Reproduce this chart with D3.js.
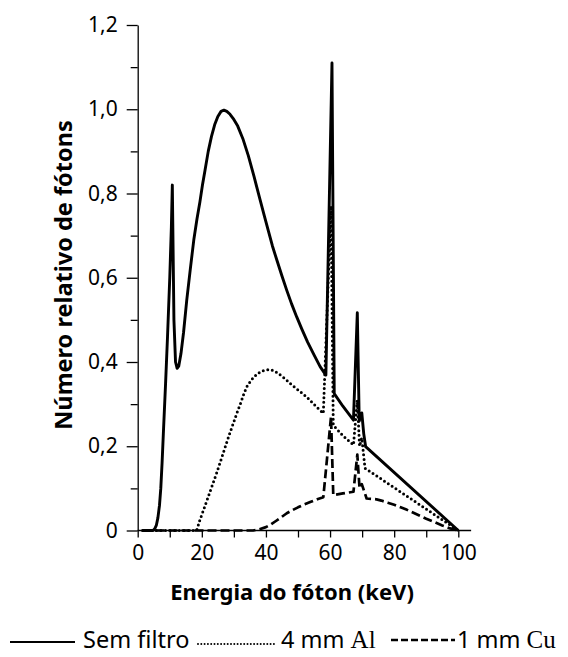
<!DOCTYPE html>
<html>
<head>
<meta charset="utf-8">
<script src="https://cdn.jsdelivr.net/npm/d3@7"></script>
<style>
  html, body { margin: 0; padding: 0; background: #fff; }
  svg { display: block; }
</style>
</head>
<body>
<svg id="chart" width="568" height="657"></svg>
<script>
// ---- Data ----
const semFiltroE = [1.5, 4.8, 5.3, 5.8, 6.3, 6.8, 7.2, 7.6, 8.0, 8.7, 9.3, 10, 10.5, 10.8, 11.3, 11.8, 12.3, 12.8, 13.5, 14.3, 15.3, 16.4, 17.5, 18.5, 19.4, 20.2, 21, 22, 23, 24, 25, 26, 26.9, 27.8, 28.8, 29.8, 31.2, 32.9, 34.5, 36.3, 38.1, 39.5, 40.8, 42, 43.4, 45, 46.5, 48, 49.6, 51.2, 53, 55, 56.9, 58.7, 60.6, 61.3, 64, 67.3, 68.5, 69.1, 69.9, 70.5, 71.1, 100];
const semFiltroN = [0, 0, 0.004, 0.012, 0.03, 0.06, 0.1, 0.16, 0.23, 0.35, 0.46, 0.6, 0.72, 0.82, 0.5, 0.4, 0.385, 0.39, 0.42, 0.47, 0.547, 0.62, 0.69, 0.74, 0.78, 0.82, 0.855, 0.9, 0.935, 0.963, 0.983, 0.995, 0.998, 0.995, 0.988, 0.978, 0.96, 0.928, 0.89, 0.84, 0.787, 0.747, 0.71, 0.676, 0.642, 0.604, 0.57, 0.538, 0.507, 0.478, 0.447, 0.417, 0.389, 0.369, 1.11, 0.325, 0.295, 0.262, 0.517, 0.26, 0.279, 0.23, 0.199, 0];

const alE = [1.5, 18.4, 19.4, 20.5, 22, 23.3, 24.6, 26, 27.2, 28.5, 29.8, 31, 32, 33, 34, 35.5, 37, 38.5, 40, 41.3, 42.6, 44, 46, 48, 50.3, 52.7, 55.3, 57.9, 60.3, 61, 64, 67.3, 68.5, 69.2, 69.9, 70.9, 100];
const alN = [0, 0, 0.025, 0.048, 0.08, 0.108, 0.136, 0.168, 0.196, 0.226, 0.254, 0.28, 0.3, 0.322, 0.341, 0.358, 0.37, 0.378, 0.381, 0.382, 0.379, 0.372, 0.36, 0.346, 0.332, 0.317, 0.297, 0.278, 0.77, 0.25, 0.225, 0.203, 0.31, 0.2, 0.22, 0.148, 0];

const cuE = [1.5, 36, 38, 40, 41.5, 43, 44.7, 46.5, 48.2, 50, 52, 54, 56, 57.9, 60.3, 61, 64, 67.3, 68.5, 69.2, 69.9, 71.4, 73, 74.5, 76, 78, 80, 82, 84, 86, 88, 90, 92.5, 95, 97.5, 100];
const cuN = [0, 0, 0.003, 0.008, 0.014, 0.022, 0.031, 0.041, 0.048, 0.055, 0.062, 0.068, 0.074, 0.079, 0.27, 0.084, 0.088, 0.092, 0.18, 0.1, 0.11, 0.076, 0.075, 0.074, 0.071, 0.066, 0.061, 0.055, 0.049, 0.042, 0.035, 0.028, 0.02, 0.012, 0.005, 0];

const yMajorTicks = [0, 0.2, 0.4, 0.6, 0.8, 1.0, 1.2];
const yMinorTicks = [0.1, 0.3, 0.5, 0.7, 0.9, 1.1];
const xTicks = [0, 10, 20, 30, 40, 50, 60, 70, 80, 90, 100];
const xLabelTicks = [0, 20, 40, 60, 80, 100];

const xTitle = "Energia do fóton (keV)";
const yTitle = "Número relativo de fótons";

// ---- Drawing ----
const svg = d3.select("#chart");
const x = d3.scaleLinear().domain([0, 100]).range([137.7, 458.3]);
const y = d3.scaleLinear().domain([0, 1.2]).range([530.5, 25]);

const sans = "'Noto Sans', 'Open Sans', sans-serif";
const serif = "'Liberation Serif', 'DejaVu Serif', serif";

// Y axis
const yAxis = svg.append("g").attr("transform", `translate(${x(0)},0)`)
  .call(d3.axisLeft(y).tickValues(yMajorTicks).tickSize(11).tickSizeOuter(0).tickPadding(9)
    .tickFormat(d => d === 0 ? "0" : d3.format(".1f")(d).replace(".", ",")));
yAxis.selectAll("text").attr("font-family", sans).attr("font-size", 21).attr("fill", "#000");
yAxis.selectAll("line, path").attr("stroke", "#000").attr("stroke-width", 1.3);

const yMinor = svg.append("g").attr("transform", `translate(${x(0)},0)`)
  .call(d3.axisLeft(y).tickValues(yMinorTicks).tickSize(7).tickSizeOuter(0).tickFormat(""));
yMinor.select(".domain").remove();
yMinor.selectAll("line").attr("stroke", "#000").attr("stroke-width", 1.3);

// X axis
const xAxis = svg.append("g").attr("transform", `translate(0,${y(0)})`)
  .call(d3.axisBottom(x).tickValues(xTicks).tickSize(7).tickSizeOuter(0).tickPadding(8)
    .tickFormat(d => xLabelTicks.includes(d) ? String(d) : ""));
xAxis.select(".domain").remove();
xAxis.append("line").attr("x1", x(0)).attr("x2", x(104)).attr("y1", 0).attr("y2", 0)
  .attr("stroke", "#000").attr("stroke-width", 1.3);
xAxis.selectAll("text").attr("font-family", sans).attr("font-size", 21).attr("fill", "#000");
xAxis.selectAll(".tick line").attr("stroke", "#000").attr("stroke-width", 1.3);

// Titles
svg.append("text").attr("x", 292).attr("y", 600).attr("text-anchor", "middle")
  .attr("font-family", sans).attr("font-weight", "bold").attr("font-size", 22).text(xTitle);
svg.append("text").attr("transform", "translate(71.5,275) rotate(-90)").attr("text-anchor", "middle")
  .attr("font-family", sans).attr("font-weight", "bold").attr("font-size", 23.5).text(yTitle);

// Lines
const line = d3.line().x(d => x(d[0])).y(d => y(d[1])).curve(d3.curveLinear);
const series = [
  { e: cuE, n: cuN, dash: "9,4", width: 2.7, cap: "butt" },
  { e: alE, n: alN, dash: "0,4.6", width: 3, cap: "round" },
  { e: semFiltroE, n: semFiltroN, dash: null, width: 2.9, cap: "butt" }
];
series.forEach(s => {
  svg.append("path").datum(s.e.map((v, i) => [v, s.n[i]]))
    .attr("d", line).attr("fill", "none").attr("stroke", "#000")
    .attr("stroke-width", s.width).attr("stroke-linecap", s.cap)
    .attr("stroke-linejoin", "round")
    .attr("stroke-dasharray", s.dash);
});

// Legend
const lg = svg.append("g");
lg.append("line").attr("x1", 10).attr("x2", 75).attr("y1", 642).attr("y2", 642)
  .attr("stroke", "#000").attr("stroke-width", 2.2);
lg.append("text").attr("x", 83).attr("y", 648).attr("font-family", sans).attr("font-size", 23.5).text("Sem filtro");
lg.append("line").attr("x1", 198).attr("x2", 277).attr("y1", 644).attr("y2", 644)
  .attr("stroke", "#000").attr("stroke-width", 2).attr("stroke-dasharray", "0,3.3").attr("stroke-linecap", "round");
const t2 = lg.append("text").attr("x", 281).attr("y", 648).attr("font-size", 23.5);
t2.append("tspan").attr("font-family", sans).text("4 mm ");
t2.append("tspan").attr("font-family", serif).attr("font-size", 25).text("Al");
lg.append("line").attr("x1", 391).attr("x2", 455).attr("y1", 640).attr("y2", 640)
  .attr("stroke", "#000").attr("stroke-width", 2.4).attr("stroke-dasharray", "7,3");
const t3 = lg.append("text").attr("x", 457).attr("y", 648).attr("font-size", 23.5);
t3.append("tspan").attr("font-family", sans).text("1 mm ");
t3.append("tspan").attr("font-family", serif).attr("font-size", 25).text("Cu");
</script>
</body>
</html>
